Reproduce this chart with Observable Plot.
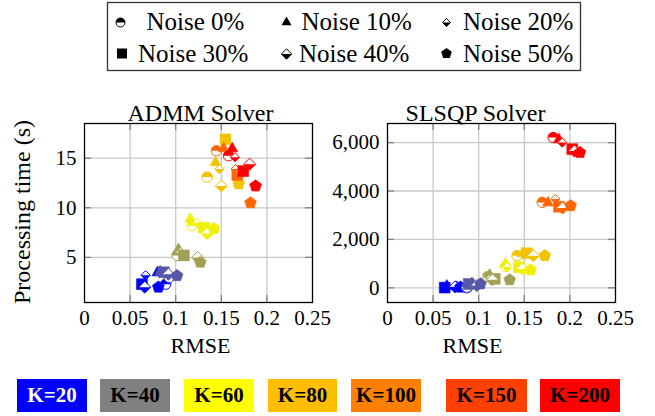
<!DOCTYPE html>
<html><head><meta charset="utf-8">
<script src="https://cdn.jsdelivr.net/npm/d3@7"></script>
<script src="https://cdn.jsdelivr.net/npm/@observablehq/plot@0.6"></script>
<style>
body{margin:0;background:#fff;}
#c{position:relative;width:655px;height:416px;font-family:'Liberation Serif','Times New Roman',Times,'Nimbus Roman','DejaVu Serif',serif;overflow:hidden;background:#fff;}
#c svg text{font-family:'Liberation Serif','Times New Roman',Times,'Nimbus Roman','DejaVu Serif',serif;}
.pl{position:absolute;top:80px;}
.kbox{position:absolute;top:379px;height:33px;display:flex;align-items:center;justify-content:center;font-weight:bold;font-size:21px;color:#000;}
.ylab{position:absolute;left:22px;top:212px;transform:translate(-50%,-50%) rotate(-90deg);white-space:nowrap;font-size:24px;line-height:1;}
</style></head>
<body><div id="c"></div>
<script>
// ---------- data ----------
const kLabels = ["K=20","K=40","K=60","K=80","K=100","K=150","K=200"];
const kPointColors = ["#0000ff","#5656a6","#a3a055","#f0f000","#f3c200","#ff6600","#ff0000"];
const kLegendColors = ["#0000ff","#808080","#ffff00","#ffbf00","#ff8000","#ff4000","#ff0000"];
const kLegendText = ["#ffffff","#000000","#000000","#000000","#000000","#000000","#000000"];
const noiseLabels = ["Noise 0%","Noise 10%","Noise 20%","Noise 30%","Noise 40%","Noise 50%"];

// ADMM solver: per K, values for noise 0,10,20,30,40,50 %
const admmRmse = [
  [0.089, 0.080, 0.067, 0.063, 0.066, 0.081],
  [0.093, 0.083, 0.089, 0.087, 0.092, 0.1015],
  [0.1015, 0.103, 0.105, 0.109, 0.124, 0.127],
  [0.118, 0.116, 0.1235, 0.131, 0.1345, 0.142],
  [0.1345, 0.1436, 0.148, 0.1546, 0.150, 0.169],
  [0.1447, 0.1526, 0.1656, 0.1675, 0.172, 0.182],
  [0.158, 0.162, 0.165, 0.174, 0.181, 0.1876]
];
const admmTime = [
  [2.3, 3.5, 3.2, 2.3, 2.0, 2.0],
  [3.0, 3.6, 3.4, 3.5, 3.3, 3.15],
  [5.2, 5.85, 5.5, 5.2, 5.0, 4.5],
  [8.2, 8.9, 8.5, 8.0, 7.4, 7.9],
  [13.1, 14.6, 13.9, 16.9, 12.2, 12.4],
  [15.75, 16.0, 13.9, 13.3, 13.6, 10.5],
  [15.25, 16.0, 15.1, 13.7, 14.4, 12.2]
];
// SLSQP solver
const slsqpRmse = [
  [0.087, 0.065, 0.076, 0.0627, 0.074, 0.080],
  [0.087, 0.0925, 0.094, 0.089, 0.098, 0.102],
  [0.110, 0.112, 0.113, 0.1176, 0.115, 0.134],
  [0.1293, 0.1293, 0.131, 0.144, 0.148, 0.1568],
  [0.142, 0.148, 0.156, 0.153, 0.160, 0.1725],
  [0.1697, 0.176, 0.184, 0.188, 0.192, 0.2008],
  [0.1817, 0.188, 0.1916, 0.2026, 0.205, 0.211]
];
const slsqpTime = [
  [5, 90, 90, 10, 40, 25],
  [30, 200, 160, 160, 95, 160],
  [465, 550, 420, 370, 330, 330],
  [880, 1000, 860, 850, 780, 740],
  [1330, 1430, 1400, 1430, 1330, 1330],
  [3530, 3530, 3670, 3350, 3300, 3390],
  [6210, 6140, 6000, 5730, 5650, 5590]
];

const xTicks = [0, 0.05, 0.1, 0.15, 0.2, 0.25];
const admmTicks = [5, 10, 15];
const slsqpTicks = [0, 2000, 4000, 6000];

const FONT = "'Liberation Serif','Times New Roman',Times,'Nimbus Roman','DejaVu Serif',serif";

// ---------- symbols ----------
const shapes = {
  circle: (c,R)=>{c.moveTo(R,0); c.arc(0,0,R,0,2*Math.PI); c.closePath();},
  topHalf: (c,R)=>{c.moveTo(-R,0); c.arc(0,0,R,Math.PI,2*Math.PI); c.closePath();},
  triangle: (c,R)=>{c.moveTo(0,-R*1.1); c.lineTo(R,R*0.65); c.lineTo(-R,R*0.65); c.closePath();},
  square: (c,R)=>{c.rect(-R,-R,2*R,2*R);},
  diamond: (c,R)=>{c.moveTo(0,-R); c.lineTo(R,0); c.lineTo(0,R); c.lineTo(-R,0); c.closePath();},
  botHalfDiamond: (c,R)=>{c.moveTo(-R,0); c.lineTo(R,0); c.lineTo(0,R); c.closePath();},
  pentagon: (c,R)=>{for(let k=0;k<5;k++){const a=-Math.PI/2+k*2*Math.PI/5; const px=R*Math.cos(a), py=R*Math.sin(a); if(k) c.lineTo(px,py); else c.moveTo(px,py);} c.closePath();}
};
const sym = name => ({draw(ctx,size){ shapes[name](ctx, Math.sqrt(size/Math.PI)); }});

function rowsOf(rm, tm){
  const rows = [];
  kLabels.forEach((k,i)=>noiseLabels.forEach((n,j)=>rows.push({k, noise:n, rmse:rm[i][j], time:tm[i][j]})));
  return rows;
}

function pointMarks(rows){
  const marks = [];
  for (const k of kLabels){
    const by = n => rows.filter(d=>d.k===k && d.noise===n);
    const o = {x:"rmse", y:"time"};
    marks.push(
      Plot.dot(by(noiseLabels[0]), {...o, symbol:sym("circle"), r:5.2, fill:"white", stroke:"k", strokeWidth:1}),
      Plot.dot(by(noiseLabels[0]), {...o, symbol:sym("topHalf"), r:5.2, fill:"k"}),
      Plot.dot(by(noiseLabels[1]), {...o, symbol:sym("triangle"), r:5.5, fill:"k", stroke:"k", strokeWidth:0.6}),
      Plot.dot(by(noiseLabels[2]), {...o, symbol:sym("diamond"), r:4.6, fill:"white", stroke:"k", strokeWidth:1}),
      Plot.dot(by(noiseLabels[2]), {...o, symbol:sym("botHalfDiamond"), r:4.6, fill:"k"}),
      Plot.dot(by(noiseLabels[3]), {...o, symbol:sym("square"), r:5.4, fill:"k", stroke:"k", strokeWidth:0.6}),
      Plot.dot(by(noiseLabels[4]), {...o, symbol:sym("diamond"), r:6, fill:"white", stroke:"k", strokeWidth:1}),
      Plot.dot(by(noiseLabels[4]), {...o, symbol:sym("botHalfDiamond"), r:6, fill:"k"}),
      Plot.dot(by(noiseLabels[5]), {...o, symbol:sym("pentagon"), r:6.2, fill:"k", stroke:"k", strokeWidth:0.6})
    );
  }
  return marks;
}

const H = 290, MT = 43, MB = 68, FH = H - MT - MB, TL = 7;

function panel({rows, yDomain, yTicks, yFmt, title, titleDx, labelDx, width, ml, mr}){
  const FW = width - ml - mr;
  const innerX = xTicks.slice(1,-1);
  const tickStyle = {stroke:"#808080", strokeWidth:1.3};
  return Plot.plot({
    width, height:H, marginLeft:ml, marginRight:mr, marginTop:MT, marginBottom:MB,
    style:{fontFamily:FONT, fontSize:"21px", color:"#000", background:"transparent", overflow:"visible"},
    x:{domain:[0,0.25], ticks:xTicks, tickFormat:d=>String(d), label:null, tickSize:0, tickPadding:8},
    y:{domain:yDomain, ticks:yTicks, tickFormat:yFmt, label:null, tickSize:0, tickPadding:8},
    color:{domain:kLabels, range:kPointColors},
    marks:[
      Plot.gridX(innerX, {stroke:"#c8c8c8", strokeOpacity:1, strokeWidth:1.3}),
      Plot.gridY(yTicks, {stroke:"#c8c8c8", strokeOpacity:1, strokeWidth:1.3}),
      Plot.tickX(innerX, {x:d=>d, insetTop:FH-TL, ...tickStyle}),
      Plot.tickX(innerX, {x:d=>d, insetBottom:FH-TL, ...tickStyle}),
      Plot.tickY(yTicks, {y:d=>d, insetRight:FW-TL, ...tickStyle}),
      Plot.tickY(yTicks, {y:d=>d, insetLeft:FW-TL, ...tickStyle}),
      Plot.frame({stroke:"#000", strokeWidth:1.3}),
      ...pointMarks(rows),
      Plot.text([title], {frameAnchor:"top", dy:-20, dx:titleDx, fontSize:24}),
      Plot.text(["RMSE"], {frameAnchor:"bottom", dy:50, dx:labelDx, fontSize:22})
    ]
  });
}

const root = document.getElementById("c");

const left = panel({rows:rowsOf(admmRmse, admmTime), yDomain:[0.45,18.5], yTicks:admmTicks, yFmt:d=>String(d),
  title:"ADMM Solver", titleDx:2, labelDx:2, width:330, ml:84, mr:18});
const right = panel({rows:rowsOf(slsqpRmse, slsqpTime), yDomain:[-606,6790], yTicks:slsqpTicks, yFmt:d3.format(","),
  title:"SLSQP Solver", titleDx:-26, labelDx:-29, width:325, ml:57, mr:40});
const d1 = document.createElement("div"); d1.className="pl"; d1.style.left="0px"; d1.appendChild(left); root.appendChild(d1);
const d2 = document.createElement("div"); d2.className="pl"; d2.style.left="330px"; d2.appendChild(right); root.appendChild(d2);

const yl = document.createElement("div"); yl.className="ylab"; yl.textContent="Processing time (s)"; root.appendChild(yl);

// ---------- noise legend ----------
const ns = "http://www.w3.org/2000/svg";
const lg = document.createElementNS(ns,"svg");
lg.setAttribute("width",655); lg.setAttribute("height",76);
lg.style.position="absolute"; lg.style.left="0"; lg.style.top="0";
function p(name,R){const c=d3.path(); shapes[name](c,R); return c.toString();}
function add(tag, attrs, txt){const e=document.createElementNS(ns,tag); for(const a in attrs) e.setAttribute(a,attrs[a]); if(txt) e.textContent=txt; lg.appendChild(e); return e;}
add("rect",{x:107.5,y:2.5,width:473,height:68,fill:"none",stroke:"#333","stroke-width":1.3});
const legendItems = [
  {sx:120.5, sy:22.5, tx:146.5, ty:30, parts:[["circle","#fff","#000"],["topHalf","#000",null]], R:4.5},
  {sx:286.5, sy:22, tx:301.5, ty:30, parts:[["triangle","#000",null]], R:5},
  {sx:446.5, sy:22.5, tx:463, ty:30, parts:[["diamond","#fff","#000"],["botHalfDiamond","#000",null]], R:4},
  {sx:122, sy:53.5, tx:138, ty:61.5, parts:[["square","#000",null]], R:5},
  {sx:286.5, sy:54, tx:299, ty:61.5, parts:[["diamond","#fff","#000"],["botHalfDiamond","#000",null]], R:5.2},
  {sx:446.5, sy:53.5, tx:463, ty:61.5, parts:[["pentagon","#000",null]], R:5.6}
];
legendItems.forEach((it,i)=>{
  it.parts.forEach(([name,fill,stroke])=>{
    const a = {d:p(name,it.R), transform:`translate(${it.sx},${it.sy})`, fill};
    if(stroke){a.stroke=stroke; a["stroke-width"]=1;}
    add("path",a);
  });
  const t = add("text",{x:it.tx, y:it.ty, "font-size":25, fill:"#000"}, noiseLabels[i]);
  t.style.fontFamily = FONT;
});
root.appendChild(lg);

// ---------- K legend ----------
const kBoxX = [[17,87],[100,170],[184,254],[268,337],[351,421],[446,527],[540,620]];
kLabels.forEach((k,i)=>{
  const b=document.createElement("div"); b.className="kbox";
  b.style.left=kBoxX[i][0]+"px"; b.style.width=(kBoxX[i][1]-kBoxX[i][0])+"px";
  b.style.background=kLegendColors[i]; b.style.color=kLegendText[i];
  b.textContent=k; root.appendChild(b);
});
</script></body></html>
